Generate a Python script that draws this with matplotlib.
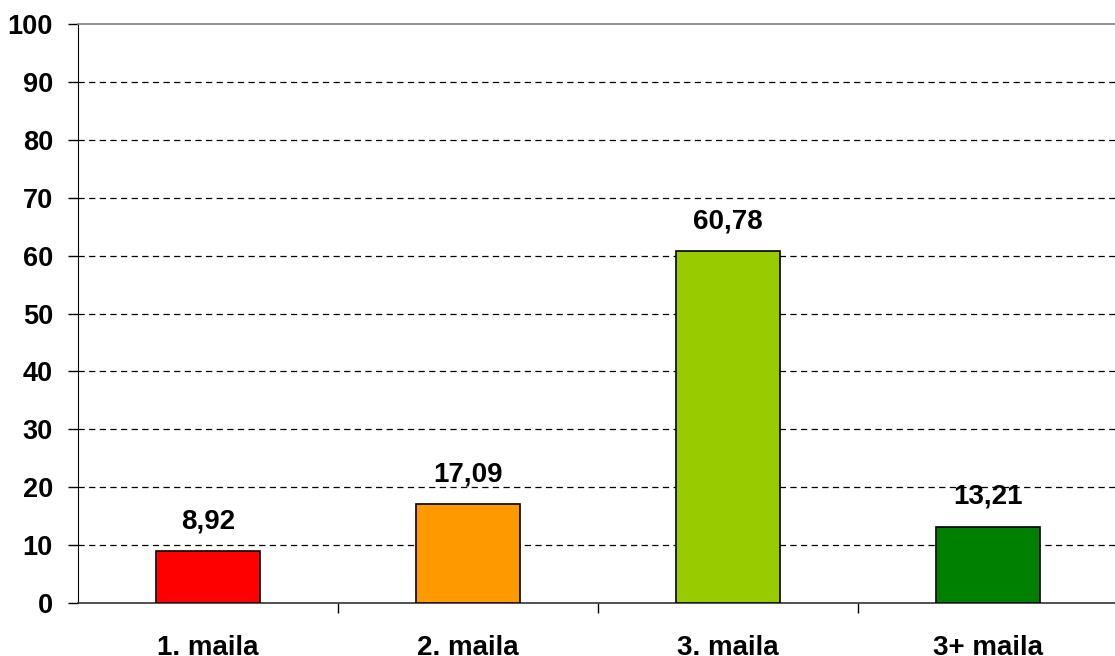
import numpy as np
import matplotlib
matplotlib.use('Agg')
import matplotlib.pyplot as plt

# data
categories = ['1. maila', '2. maila', '3. maila', '3+ maila']
values = [8.92, 17.09, 60.78, 13.21]
value_labels = ['8,92', '17,09', '60,78', '13,21']
bar_colors = ['#FF0000', '#FF9900', '#99CC00', '#008000']
y_ticks = list(range(0, 101, 10))

plt.rcParams['font.family'] = ['Liberation Sans', 'DejaVu Sans']
plt.rcParams['font.weight'] = 'bold'

fig = plt.figure(figsize=(11.15, 6.56), dpi=100)
ax = fig.add_axes([78 / 1115.0, 53 / 656.0, 1040 / 1115.0, 579 / 656.0])

x = np.arange(len(categories))
ax.bar(x, values, width=0.4, color=bar_colors, edgecolor='black', linewidth=1.2, zorder=3)

for xi, v, lab in zip(x, values, value_labels):
    ax.annotate(lab, (xi, v), xytext=(0, 12), textcoords='offset points',
                ha='center', va='bottom', fontsize=20, fontweight='bold', zorder=4)

ax.set_xlim(-0.5, len(categories) - 0.5)
ax.set_ylim(0, 100)
ax.set_yticks(y_ticks)
ax.set_yticklabels([str(t) for t in y_ticks], fontsize=19.5, fontweight='bold')

ax.set_xticks(x)
ax.set_xticklabels(categories, fontsize=20, fontweight='bold')
ax.set_xticks(np.arange(0.5, len(categories) - 0.5, 1.0), minor=True)
ax.tick_params(axis='x', which='major', length=0, pad=23)
ax.tick_params(axis='x', which='minor', length=7, width=1, direction='out', color='black')
ax.tick_params(axis='y', length=7, width=1, direction='out', pad=11)

# dashed grid lines
for t in y_ticks[1:-1]:
    ax.axhline(t, color='black', linewidth=0.9, linestyle=(0, (5, 3.5)), zorder=1)

ax.spines['right'].set_visible(False)
ax.spines['top'].set_color('#808080')
ax.spines['top'].set_linewidth(1.2)
ax.spines['left'].set_color('black')
ax.spines['bottom'].set_color('#333333')
ax.spines['bottom'].set_linewidth(1.2)

fig.savefig('out.png', dpi=100)
